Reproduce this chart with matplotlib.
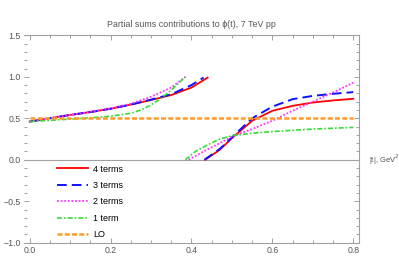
import matplotlib
matplotlib.use("Agg")
import matplotlib.pyplot as plt
from matplotlib.ticker import MultipleLocator

plt.rcParams['font.family'] = ['Liberation Sans', 'DejaVu Sans']

# |t| values and phi contributions (two branches each)
t4a = [0.0, 0.05, 0.1, 0.15, 0.2, 0.25, 0.3, 0.35, 0.4, 0.44]
y4a = [0.46, 0.50, 0.54, 0.575, 0.615, 0.665, 0.72, 0.78, 0.87, 0.99]
t4b = [0.434, 0.47, 0.5, 0.55, 0.6, 0.65, 0.7, 0.75, 0.8]
y4b = [0.0, 0.12, 0.26, 0.47, 0.59, 0.65, 0.69, 0.715, 0.735]

t3a = [0.0, 0.05, 0.1, 0.15, 0.2, 0.25, 0.3, 0.35, 0.4, 0.43]
y3a = [0.46, 0.50, 0.54, 0.575, 0.615, 0.665, 0.725, 0.79, 0.90, 0.99]
t3b = [0.432, 0.47, 0.5, 0.55, 0.6, 0.65, 0.7, 0.75, 0.8]
y3b = [0.0, 0.13, 0.27, 0.50, 0.64, 0.73, 0.77, 0.795, 0.815]

t2a = [0.0, 0.05, 0.1, 0.15, 0.2, 0.25, 0.3, 0.35, 0.385]
y2a = [0.46, 0.50, 0.54, 0.58, 0.62, 0.675, 0.76, 0.87, 1.0]
t2b = [0.393, 0.43, 0.47, 0.5, 0.55, 0.6, 0.65, 0.7, 0.75, 0.8]
y2b = [0.0, 0.10, 0.20, 0.28, 0.37, 0.47, 0.59, 0.70, 0.81, 0.93]

t1a = [0.0, 0.05, 0.1, 0.15, 0.2, 0.25, 0.275, 0.3, 0.325, 0.35, 0.385]
y1a = [0.46, 0.475, 0.49, 0.505, 0.525, 0.56, 0.60, 0.66, 0.74, 0.84, 1.0]
t1b = [0.385, 0.41, 0.44, 0.47, 0.5, 0.55, 0.6, 0.65, 0.7, 0.75, 0.8]
y1b = [0.0, 0.10, 0.18, 0.25, 0.29, 0.32, 0.34, 0.355, 0.37, 0.38, 0.39]

t_lo = [0.0, 0.8]
y_lo = [0.5, 0.5]

labels = ['4 terms', '3 terms', '2 terms', '1 term', 'LO']

fig = plt.figure(figsize=(3.99, 2.76), dpi=100)
ax = fig.add_axes([0.0602, 0.1207, 0.8403, 0.7513])

gray = '#a0a0a0'
ax.axhline(0, color=gray, lw=0.8, zorder=1)

red, blue, mag, green, orange = '#ff0000', '#1010ff', '#ff33ff', '#33dd33', '#ff9b2a'

ax.plot(t4a, y4a, color=red, lw=1.3, label=labels[0])
ax.plot(t4b, y4b, color=red, lw=1.3)
ax.plot(t3a, y3a, color=blue, lw=1.4, dashes=(5, 2.6), label=labels[1])
ax.plot(t3b, y3b, color=blue, lw=1.4, dashes=(5, 2.6))
ax.plot(t2a, y2a, color=mag, lw=1.3, dashes=(1, 1), label=labels[2])
ax.plot(t2b, y2b, color=mag, lw=1.3, dashes=(1, 1))
ax.plot(t1a, y1a, color=green, lw=1.2, dashes=(3, 1.2, 1, 1.2), label=labels[3])
ax.plot(t1b, y1b, color=green, lw=1.2, dashes=(3, 1.2, 1, 1.2))
ax.plot(t_lo, y_lo, color=orange, lw=1.8, dashes=(2, 0.9), label=labels[4])

ax.set_xlim(-0.014, 0.815)
ax.set_ylim(-1.0, 1.5)
ax.xaxis.set_major_locator(MultipleLocator(0.2))
ax.xaxis.set_minor_locator(MultipleLocator(0.05))
ax.yaxis.set_major_locator(MultipleLocator(0.5))
ax.yaxis.set_minor_locator(MultipleLocator(0.1))
ax.tick_params(which='both', direction='in', top=True, right=True,
               color=gray, labelcolor='#555555', labelsize=6.3, width=0.7)
ax.tick_params(which='major', length=3.5, pad=2.5)
ax.tick_params(which='minor', length=2)
for side in ['top', 'right', 'bottom']:
    ax.spines[side].set_color(gray)
    ax.spines[side].set_linewidth(0.8)
ax.spines['left'].set_visible(False)

ax.set_title('Partial sums contributions to ϕ(t), 7 TeV pp', fontsize=6.4,
             color='#555555', pad=6)
ax.text(1.028, 0.0, '|t|, GeV$^2$', transform=ax.get_yaxis_transform(),
        fontsize=5.5, color='#555555', va='center', ha='left')

ax.legend(loc='upper left', bbox_to_anchor=(57 / 399, 1 - 164.5 / 276),
          bbox_transform=fig.transFigure, frameon=False, fontsize=6.5,
          handlelength=3.4, handletextpad=0.6, labelspacing=0.82,
          borderpad=0, borderaxespad=0)

fig.savefig('out.png', dpi=100)
